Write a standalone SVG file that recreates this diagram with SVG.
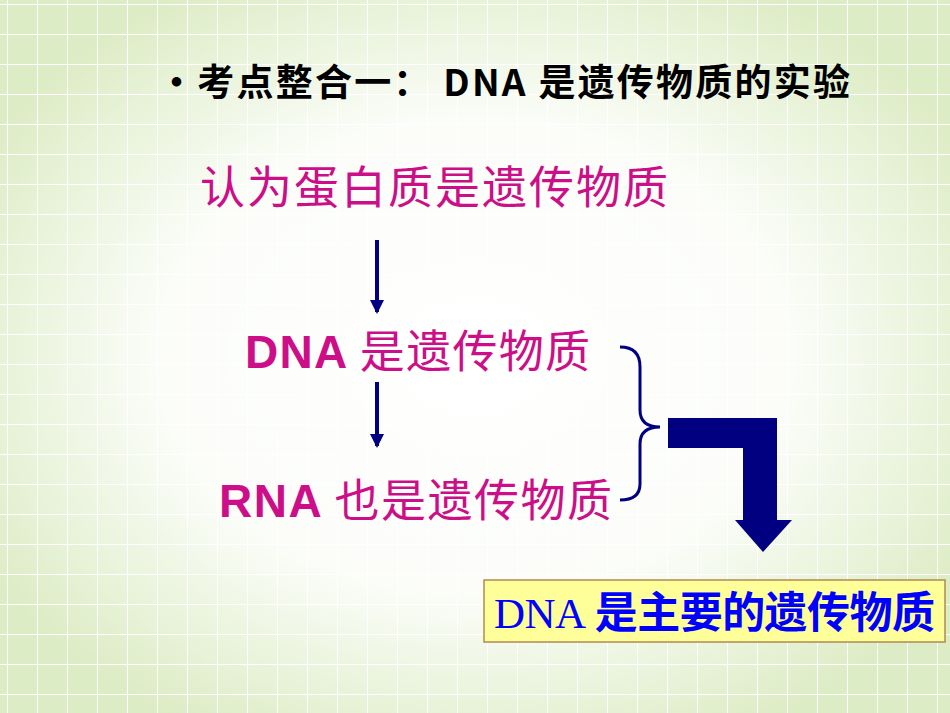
<svg xmlns="http://www.w3.org/2000/svg" width="950" height="713" viewBox="0 0 950 713">
<style>
.cjk{font-family:"Noto Sans CJK SC","Liberation Sans",sans-serif}
.pink{fill:#cc0e88;font-size:45px}
.lat{font-family:"Liberation Sans",Arial,sans-serif}
</style>
<defs>
<pattern id="grid" width="30" height="30" patternUnits="userSpaceOnUse" x="7" y="4">
<rect width="30" height="30" fill="#dcecc4"/>
<path d="M0 0H30M0 0V30" stroke="#ffffff" stroke-width="2" fill="none"/>
</pattern>
<radialGradient id="fade" cx="0.5" cy="0.5" r="0.6">
<stop offset="0" stop-color="#ffffff" stop-opacity="1"/>
<stop offset="0.55" stop-color="#ffffff" stop-opacity="0.9"/>
<stop offset="1" stop-color="#ffffff" stop-opacity="0"/>
</radialGradient>
<marker id="ah" markerWidth="14" markerHeight="14" refX="12" refY="7" orient="auto" markerUnits="userSpaceOnUse" viewBox="0 0 14 14">
<path d="M0 0L14 7L0 14Z" fill="#000080"/>
</marker>
</defs>
<rect width="950" height="713" fill="url(#grid)"/>
<rect width="950" height="713" fill="url(#fade)"/>
<g id="title"><text x="158" y="96" class="cjk" font-size="37" font-weight="bold" fill="#000" textLength="692" lengthAdjust="spacing">•考点整合一： DNA 是遗传物质的实验</text></g>
<g id="n1"><text x="200" y="204" class="cjk pink" textLength="468" lengthAdjust="spacing">认为蛋白质是遗传物质</text></g>
<g id="n2"><text x="245" y="368" class="pink" textLength="345" lengthAdjust="spacing"><tspan class="lat" font-size="46" font-weight="bold">DNA</tspan><tspan class="cjk"> 是遗传物质</tspan></text></g>
<g id="n3"><text x="219" y="517" class="pink" textLength="393" lengthAdjust="spacing"><tspan class="lat" font-size="46" font-weight="bold">RNA</tspan><tspan class="cjk"> 也是遗传物质</tspan></text></g>
<g id="n4"><rect x="484" y="580" width="461" height="62" fill="#ffff99" stroke="#b08a50" stroke-width="1.5"/>
<text x="494" y="628" fill="#0000ff" font-size="43" textLength="441" lengthAdjust="spacing"><tspan font-family="Liberation Serif,serif">DNA</tspan><tspan class="cjk" font-weight="bold"> 是主要的遗传物质</tspan></text></g>
<g id="connectors">
<line x1="377" y1="240" x2="377" y2="312" stroke="#000080" stroke-width="4" marker-end="url(#ah)"/>
<line x1="377" y1="382" x2="377" y2="446" stroke="#000080" stroke-width="4" marker-end="url(#ah)"/>
<path d="M620 347Q640 347 640 367V410Q640 427 660 427Q640 427 640 444V484Q640 500 620 500" fill="none" stroke="#000080" stroke-width="3"/>
<path d="M668 418H777V520H792L763 552L735 520H743V448H668Z" fill="#000080"/>
</g>
</svg>
